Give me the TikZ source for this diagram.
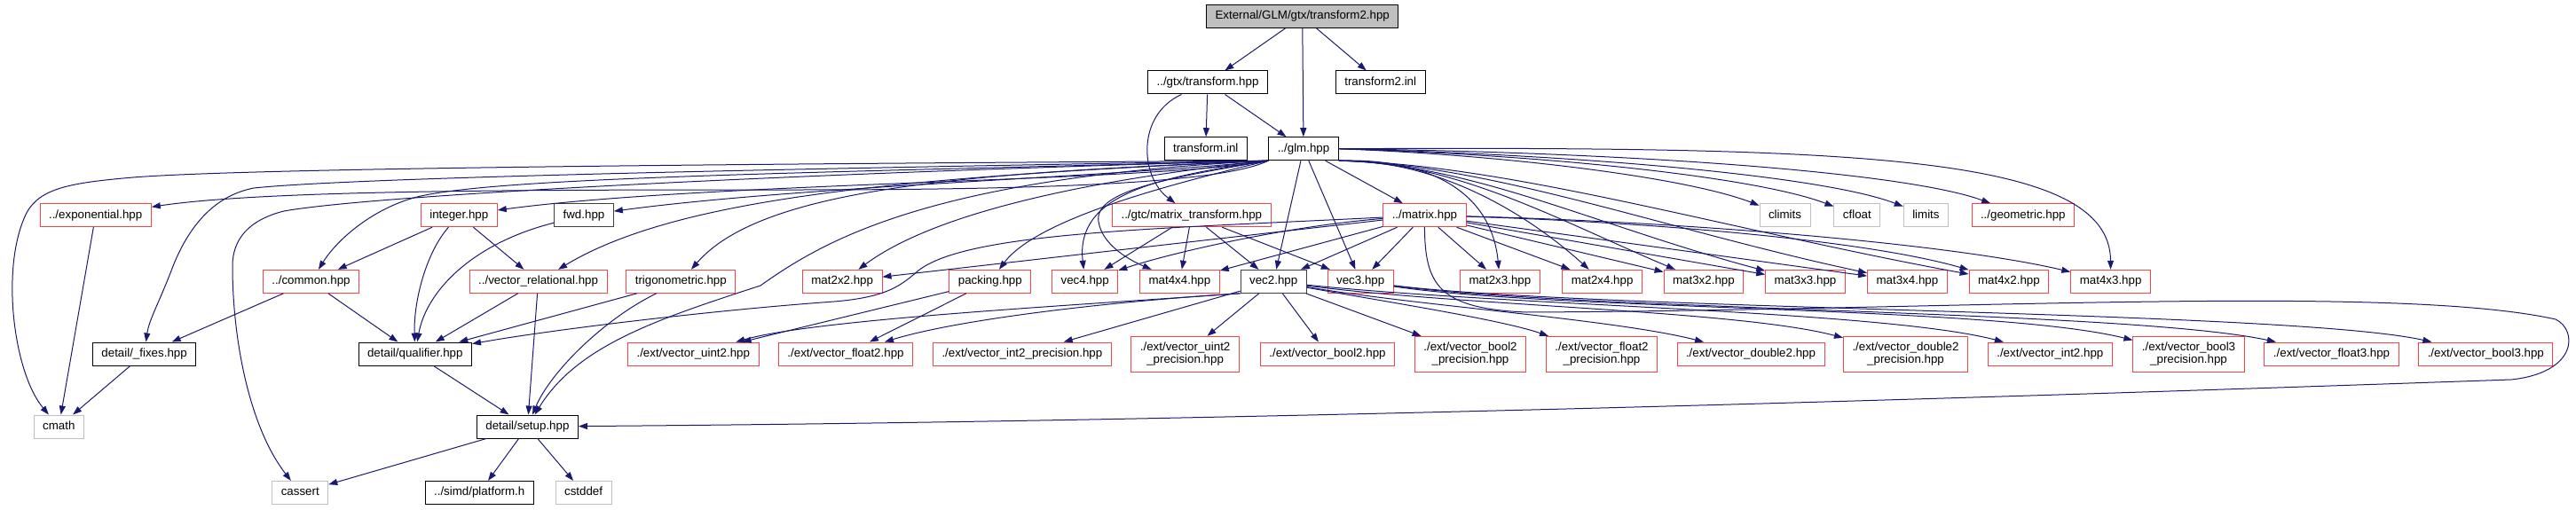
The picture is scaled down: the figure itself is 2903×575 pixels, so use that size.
\documentclass[tikz,border=0pt]{standalone}
\usepackage{fontspec}
\newfontfamily\graphfont{Liberation Sans}
\usetikzlibrary{arrows.meta}
\definecolor{edgeBlue}{RGB}{25,25,112}
\definecolor{truncRed}{RGB}{255,64,64}
\definecolor{sysGray}{RGB}{191,191,191}
\definecolor{darkGrey}{RGB}{64,64,64}

\tikzset{
  file/.style={draw=black, fill=white, line width=1pt, inner xsep=10pt, inner ysep=0pt,
    minimum height=26pt, text height=9.6pt, text depth=2.8pt,
    font=\graphfont\fontsize{13.33}{15}\selectfont},
  rootfile/.style={file, fill=sysGray},
  trunc/.style={file, draw=truncRed},
  sysfile/.style={file, draw=sysGray},
  darkfile/.style={file, draw=darkGrey},
  trunctwo/.style={draw=truncRed, fill=white, line width=1pt, inner xsep=10pt, inner ysep=0pt,
    minimum height=40pt, align=center, font=\graphfont\fontsize{13.33}{14.3}\selectfont},
  incl/.style={draw=edgeBlue, line width=1pt, -{Triangle[length=10pt,width=7pt]}}
}

\begin{document}
\begin{tikzpicture}[x=1pt,y=-1pt]
  \useasboundingbox (0,0) rectangle (2903,575);

  % 1. top ranks
  \node[rootfile] (root) at (1467.7,18.5) {External/GLM/gtx/transform2.hpp};
  \node[file] (gtxtrans) at (1361,93) {../gtx/transform.hpp};
  \node[file] (trans2inl) at (1555.7,93) {transform2.inl};
  \node[file] (transinl) at (1358.7,167.7) {transform.inl};
  \node[file] (glm) at (1469,167.7) {../glm.hpp};

  % 2. third rank
  \node[trunc] (expo) at (107.7,242.7) {../exponential.hpp};
  \node[trunc] (integer) at (517.3,242.7) {integer.hpp};
  \node[darkfile] (fwd) at (658,242.7) {fwd.hpp};
  \node[trunc] (mtrans) at (1342.8,242.7) {../gtc/matrix\_transform.hpp};
  \node[trunc] (matrix) at (1605.4,242.7) {../matrix.hpp};
  \node[sysfile] (climits) at (2011.5,242.7) {climits};
  \node[sysfile] (cfloat) at (2092.9,242.7) {cfloat};
  \node[sysfile] (limits) at (2170.4,242.7) {limits};
  \node[trunc] (geometric) at (2279.8,242.7) {../geometric.hpp};

  % 3. fourth rank
  \node[trunc] (common) at (350.5,317.3) {../common.hpp};
  \node[trunc] (vecrel) at (606.6,317.3) {../vector\_relational.hpp};
  \node[trunc] (trig) at (767.3,317.3) {trigonometric.hpp};
  \node[trunc] (mat2x2) at (949.2,317.3) {mat2x2.hpp};
  \node[trunc] (packing) at (1115.8,317.3) {packing.hpp};
  \node[trunc] (vec4) at (1222.7,317.3) {vec4.hpp};
  \node[trunc] (mat4x4) at (1329.4,317.3) {mat4x4.hpp};
  \node[darkfile] (vec2) at (1435.2,317.3) {vec2.hpp};
  \node[trunc] (vec3) at (1533.2,317.3) {vec3.hpp};
  \node[trunc] (mat2x3) at (1690.4,317.3) {mat2x3.hpp};
  \node[trunc] (mat2x4) at (1805.6,317.3) {mat2x4.hpp};
  \node[trunc] (mat3x2) at (1919.9,317.3) {mat3x2.hpp};
  \node[trunc] (mat3x3) at (2034.5,317.3) {mat3x3.hpp};
  \node[trunc] (mat3x4) at (2149.4,317.3) {mat3x4.hpp};
  \node[trunc] (mat4x2) at (2263.9,317.3) {mat4x2.hpp};
  \node[trunc] (mat4x3) at (2378.6,317.3) {mat4x3.hpp};

  % 4. fifth rank
  \node[file] (fixes) at (162.6,399) {detail/\_fixes.hpp};
  \node[file] (qualifier) at (467.8,399) {detail/qualifier.hpp};
  \node[trunc] (vuint2) at (781.3,399) {./ext/vector\_uint2.hpp};
  \node[trunc] (vfloat2) at (953,399) {./ext/vector\_float2.hpp};
  \node[trunc] (vint2p) at (1151.9,399) {./ext/vector\_int2\_precision.hpp};
  \node[trunctwo] (vuint2p) at (1335.6,399.3) {./ext/vector\_uint2\\\_precision.hpp};
  \node[trunc] (vbool2) at (1496,399) {./ext/vector\_bool2.hpp};
  \node[trunctwo] (vbool2p) at (1657,399.3) {./ext/vector\_bool2\\\_precision.hpp};
  \node[trunctwo] (vfloat2p) at (1805,399.3) {./ext/vector\_float2\\\_precision.hpp};
  \node[trunc] (vdouble2) at (1973,399) {./ext/vector\_double2.hpp};
  \node[trunctwo] (vdouble2p) at (2147.5,399.3) {./ext/vector\_double2\\\_precision.hpp};
  \node[trunc] (vint2) at (2310.3,399) {./ext/vector\_int2.hpp};
  \node[trunctwo] (vbool3p) at (2466.5,399.3) {./ext/vector\_bool3\\\_precision.hpp};
  \node[trunc] (vfloat3) at (2627.5,399) {./ext/vector\_float3.hpp};
  \node[trunc] (vbool3) at (2801.3,399) {./ext/vector\_bool3.hpp};

  % 5. bottom ranks
  \node[sysfile] (cmath) at (66.3,481) {cmath};
  \node[file] (setup) at (594.4,481) {detail/setup.hpp};
  \node[sysfile] (cassert) at (338.3,555.5) {cassert};
  \node[file] (platform) at (540.2,555.5) {../simd/platform.h};
  \node[sysfile] (cstddef) at (657.6,555.5) {cstddef};

  % 6. root and gtx/transform.hpp
  \draw[incl] (root) -- (gtxtrans);
  \draw[incl] (root) -- (glm);
  \draw[incl] (root) -- (trans2inl);
  \draw[incl] (gtxtrans) -- (transinl);
  \draw[incl] (gtxtrans) -- (glm);
  \draw[incl] (gtxtrans) .. controls (1280,130) and (1285,200) .. (mtrans);

  % 7. glm.hpp to the left
  \draw[incl] (glm.south west) .. controls (1000,184) and (300,188) .. (150,200)
    .. controls (80,206) and (45,212) .. (30,240) .. controls (0,300) and (15,420) .. (cmath);
  \draw[incl] (glm.south west) .. controls (1380,205) and (1200,214) .. (900,214)
    .. controls (600,214) and (300,214) .. (expo);
  \draw[incl] (glm.south west) .. controls (900,190) and (400,200) .. (286,212)
    .. controls (245,220) and (215,250) .. (195,300) .. controls (180,340) and (168,360) .. (fixes);
  \draw[incl] (glm.south west) .. controls (900,195) and (420,220) .. (320,238)
    .. controls (280,248) and (262,270) .. (262,300) .. controls (262,380) and (280,480) .. (cassert);
  \draw[incl] (glm.south west) .. controls (900,195) and (560,200) .. (470,222)
    .. controls (420,235) and (380,270) .. (common);
  \draw[incl] (glm.south west) .. controls (1300,205) and (800,205) .. (integer);
  \draw[incl] (glm.south west) .. controls (1250,200) and (900,210) .. (fwd);
  \draw[incl] (glm.south west) .. controls (1000,200) and (760,225) .. (vecrel);
  \draw[incl] (glm.south west) .. controls (1100,195) and (860,210) .. (trig);
  \draw[incl] (glm.south west) .. controls (1050,200) and (930,270) .. (857,322)
    .. controls (740,360) and (650,390) .. (setup);
  \draw[incl] (glm.south west) .. controls (1250,200) and (1060,235) .. (mat2x2);
  \draw[incl] (glm.south west) .. controls (1330,205) and (1170,245) .. (packing);
  \draw[incl] (glm.south west) .. controls (1300,200) and (1212,220) .. (vec4);
  \draw[incl] (glm.south west) .. controls (1320,200) and (1232,215) .. (1238,250)
    .. controls (1242,275) and (1270,292) .. (mat4x4);

  % 8. glm.hpp downwards and to the right
  \draw[incl] (glm) -- (vec2);
  \draw[incl] (glm) -- (vec3);
  \draw[incl] (glm) -- (matrix);
  \draw[incl] (glm.south east) .. controls (1600,178) and (1680,210) .. (mat2x3);
  \draw[incl] (glm.south east) .. controls (1620,180) and (1720,240) .. (mat2x4);
  \draw[incl] (glm.south east) .. controls (1640,182) and (1760,250) .. (mat3x2);
  \draw[incl] (glm.south east) .. controls (1660,185) and (1800,255) .. (mat3x3);
  \draw[incl] (glm.south east) .. controls (1680,185) and (1880,260) .. (mat3x4);
  \draw[incl] (glm.south east) .. controls (1700,185) and (1950,260) .. (mat4x2);
  \draw[incl] (glm.east) .. controls (1700,175) and (1900,200) .. (climits);
  \draw[incl] (glm.east) .. controls (1750,175) and (1980,200) .. (cfloat);
  \draw[incl] (glm.east) .. controls (1800,175) and (2060,200) .. (limits);
  \draw[incl] (glm.east) .. controls (1850,172) and (2150,195) .. (geometric);
  \draw[incl] (glm.east) .. controls (2100,165) and (2378,175) .. (mat4x3);

  % 9. matrix.hpp
  \draw[incl] (matrix) -- (vec2);
  \draw[incl] (matrix) -- (vec3);
  \draw[incl] (matrix) .. controls (1450,255) and (1320,285) .. (vec4);
  \draw[incl] (matrix) -- (mat4x4);
  \draw[incl] (matrix) -- (mat2x2);
  \draw[incl] (matrix) -- (mat2x3);
  \draw[incl] (matrix) -- (mat2x4);
  \draw[incl] (matrix) -- (mat3x2);
  \draw[incl] (matrix) -- (mat3x3);
  \draw[incl] (matrix) -- (mat3x4);
  \draw[incl] (matrix) .. controls (1850,250) and (2100,270) .. (mat4x2);
  \draw[incl] (matrix) .. controls (1900,250) and (2200,275) .. (mat4x3);
  \draw[incl] (matrix) .. controls (1300,258) and (1090,262) .. (1035,305)
    .. controls (1015,322) and (1000,335) .. (940,340)
    .. controls (800,350) and (620,372) .. (qualifier);
  \draw[incl] (matrix.south) .. controls (1606,320) and (1620,348) .. (1720,352)
    .. controls (2200,350) and (2700,320) .. (2880,360)
    .. controls (2905,372) and (2905,420) .. (2830,428)
    .. controls (2200,450) and (1400,475) .. (setup);

  % 10. gtc/matrix_transform.hpp
  \draw[incl] (mtrans) -- (vec4);
  \draw[incl] (mtrans) -- (mat4x4);
  \draw[incl] (mtrans) -- (vec2);
  \draw[incl] (mtrans) -- (vec3);

  % 11. vec2.hpp, vec3.hpp, packing.hpp
  \draw[incl] (vec2.south west) .. controls (1200,345) and (920,360) .. (vuint2);
  \draw[incl] (vec2.south west) .. controls (1250,340) and (1080,360) .. (vfloat2);
  \draw[incl] (vec2) -- (vint2p);
  \draw[incl] (vec2) -- (vuint2p);
  \draw[incl] (vec2) -- (vbool2);
  \draw[incl] (vec2) -- (vbool2p);
  \draw[incl] (vec2) .. controls (1560,340) and (1690,360) .. (vfloat2p);
  \draw[incl] (vec2) .. controls (1600,345) and (1820,360) .. (vdouble2);
  \draw[incl] (vec2) .. controls (1650,345) and (1960,350) .. (vdouble2p);
  \draw[incl] (vec2) .. controls (1700,345) and (2120,350) .. (vint2);
  \draw[incl] (vec3) .. controls (1750,350) and (2250,345) .. (vbool3p);
  \draw[incl] (vec3) .. controls (1780,350) and (2400,350) .. (vfloat3);
  \draw[incl] (vec3) .. controls (1800,350) and (2580,350) .. (vbool3);
  \draw[incl] (packing) -- (vuint2);
  \draw[incl] (packing) -- (vfloat2);

  % 12. the left-hand headers
  \draw[incl] (expo) -- (cmath);
  \draw[incl] (fixes) -- (cmath);
  \draw[incl] (common) -- (fixes);
  \draw[incl] (common) -- (qualifier);
  \draw[incl] (integer) -- (common);
  \draw[incl] (integer) .. controls (480,285) and (466,340) .. (qualifier);
  \draw[incl] (integer) -- (vecrel);
  \draw[incl] (fwd) .. controls (530,275) and (480,330) .. (qualifier);
  \draw[incl] (vecrel) -- (qualifier);
  \draw[incl] (vecrel) -- (setup);
  \draw[incl] (trig) -- (qualifier);
  \draw[incl] (trig) .. controls (680,360) and (620,420) .. (setup);
  \draw[incl] (qualifier) -- (setup);

  % 13. detail/setup.hpp
  \draw[incl] (setup) -- (cassert);
  \draw[incl] (setup) -- (platform);
  \draw[incl] (setup) -- (cstddef);
\end{tikzpicture}
\end{document}
